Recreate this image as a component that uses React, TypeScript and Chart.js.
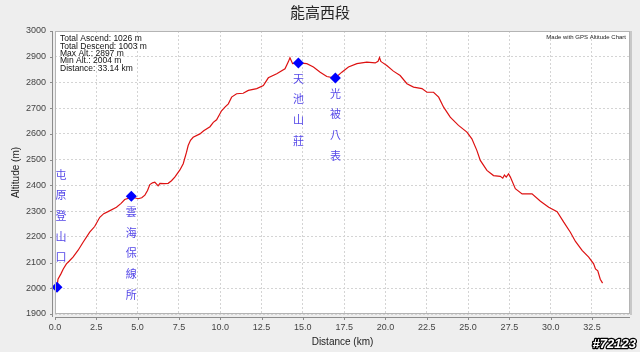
import React, { useEffect, useRef } from 'react';
import { Chart, registerables } from 'chart.js';

Chart.register(...registerables);

const TITLE = '能高西段';
const X_TITLE = 'Distance (km)';
const Y_TITLE = 'Altitude (m)';

const distances = [
  0.12, 0.18, 0.35, 0.5, 0.69, 0.85, 1.09, 1.4, 1.7, 2.1, 2.4, 2.71, 2.95, 3.21, 3.72, 4.0, 4.22, 4.45,
  4.62, 4.8, 5.03, 5.25, 5.44, 5.6, 5.74, 5.9, 6.04, 6.15, 6.24, 6.35, 6.6, 6.85, 7.05, 7.25, 7.56, 7.76,
  7.96, 8.06, 8.2, 8.36, 8.77, 9.0, 9.38, 9.58, 9.78, 10.08, 10.3, 10.49, 10.69, 10.99, 11.39, 11.7, 12.21,
  12.61, 12.91, 13.42, 13.92, 14.12, 14.22, 14.38, 14.73, 15.24, 15.64, 16.05, 16.45, 16.95, 17.36, 17.76,
  18.27, 18.87, 19.38, 19.55, 19.64, 19.72, 19.78, 20.08, 20.48, 20.89, 21.3, 21.7, 22.21, 22.51, 22.91,
  23.22, 23.52, 23.92, 24.42, 24.93, 25.23, 25.53, 25.74, 26.14, 26.54, 26.95, 27.1, 27.2, 27.31, 27.45,
  27.56, 27.86, 28.27, 28.87, 29.38, 29.88, 30.39, 30.79, 31.19, 31.5, 31.9, 32.3, 32.6, 32.71, 32.85,
  33.0, 33.14,
];
const altitudes = [
  2004, 2035, 2055, 2075, 2095, 2105, 2121, 2148, 2179, 2218, 2240, 2276, 2290, 2298, 2315, 2330, 2345, 2350,
  2358, 2352, 2348, 2352, 2362, 2380, 2403, 2410, 2412, 2405, 2398, 2408, 2407, 2408, 2418, 2432, 2460, 2484,
  2529, 2555, 2575, 2587, 2600, 2612, 2628, 2645, 2655, 2690, 2705, 2717, 2743, 2756, 2758, 2769, 2776,
  2788, 2818, 2834, 2853, 2880, 2896, 2873, 2876, 2873, 2860, 2840, 2823, 2817, 2840, 2860,
  2873, 2879, 2876, 2882, 2897, 2882, 2879, 2866, 2844, 2827, 2795, 2782, 2776, 2762, 2762,
  2743, 2704, 2665, 2633, 2607, 2581, 2536, 2497, 2458, 2438, 2435, 2428, 2440, 2432, 2445,
  2432, 2387, 2367, 2367, 2338, 2315, 2298, 2257, 2218, 2182, 2147, 2121, 2095, 2075, 2068,
  2035, 2020,
];

const markerDistances = [0.12, 4.62, 14.73, 16.97];
const markerAltitudes = [2004, 2358, 2876, 2817];
const markerLabels = ['屯原登山口', '雲海保線所', '天池山莊', '光被八表'];

const statsLines = [
  'Total Ascend: 1026 m',
  'Total Descend: 1003 m',
  'Max Alt.: 2897 m',
  'Min Alt.: 2004 m',
  'Distance: 33.14 km',
];
const CREDIT = 'Made with GPS Altitude Chart';
const WATERMARK = '#72123';

const X_MIN = 0;
const X_MAX = 34.8;
const X_STEP = 2.5;
const Y_MIN = 1900;
const Y_MAX = 3000;
const Y_STEP = 100;

const decorPlugin = {
  id: 'decor',
  beforeDraw(chart: any) {
    const { ctx, chartArea: a, width, height } = chart;
    ctx.save();
    ctx.fillStyle = '#eeeeee';
    ctx.fillRect(0, 0, width, height);
    ctx.fillStyle = '#ffffff';
    ctx.fillRect(a.left, a.top, a.right - a.left, a.bottom - a.top);
    ctx.restore();
  },
  afterDraw(chart: any) {
    const { ctx, chartArea: a, width, height } = chart;
    const xs = chart.scales.x;
    const ys = chart.scales.y;
    ctx.save();
    // plot frame
    ctx.strokeStyle = '#b4b4b4';
    ctx.lineWidth = 1;
    ctx.strokeRect(a.left + 0.5, a.top + 0.5, a.right - a.left - 1, a.bottom - a.top - 1);
    ctx.strokeStyle = '#c8c8c8';
    ctx.lineWidth = 2;
    ctx.beginPath();
    ctx.moveTo(a.right + 1, a.top);
    ctx.lineTo(a.right + 1, a.bottom + 1);
    ctx.stroke();
    // axis lines
    ctx.strokeStyle = '#8c8c8c';
    ctx.lineWidth = 1;
    ctx.beginPath();
    ctx.moveTo(a.left - 2.5, a.top);
    ctx.lineTo(a.left - 2.5, a.bottom + 3);
    ctx.moveTo(a.left, a.bottom + 3.5);
    ctx.lineTo(a.right, a.bottom + 3.5);
    ys.ticks.forEach((t: any) => {
      const y = Math.round(ys.getPixelForValue(t.value)) + 0.5;
      ctx.moveTo(a.left - 2.5, y);
      ctx.lineTo(a.left - 5, y);
    });
    xs.ticks.forEach((t: any) => {
      const x = Math.round(xs.getPixelForValue(t.value)) + 0.5;
      ctx.moveTo(x, a.bottom + 3.5);
      ctx.lineTo(x, a.bottom + 6);
    });
    ctx.stroke();

    // title
    ctx.fillStyle = '#222222';
    ctx.font = '15px "Noto Sans CJK TC", "Noto Sans CJK SC", sans-serif';
    ctx.textAlign = 'center';
    ctx.textBaseline = 'middle';
    ctx.fillText(TITLE, width / 2, 12);

    // stats
    ctx.font = '8.5px "Liberation Sans", Arial, sans-serif';
    ctx.textAlign = 'left';
    ctx.fillStyle = '#111111';
    statsLines.forEach((s, i) => ctx.fillText(s, a.left + 5, 39 + i * 7.3));

    // credit
    ctx.font = '6px "Liberation Sans", Arial, sans-serif';
    ctx.textAlign = 'right';
    ctx.fillStyle = '#222222';
    ctx.fillText(CREDIT, a.right - 4, 37);

    // marker labels
    ctx.font = '11px "Noto Sans CJK TC", "Noto Sans CJK SC", sans-serif';
    ctx.textAlign = 'center';
    ctx.fillStyle = '#5548e8';
    const step = 20.7;
    markerLabels.forEach((lab, i) => {
      const px = xs.getPixelForValue(markerDistances[i]);
      const py = ys.getPixelForValue(markerAltitudes[i]);
      const chars = Array.from(lab);
      let startY = py + 15.5;
      if (startY + (chars.length - 1) * step + 8 > a.bottom) {
        startY = py - 30 - (chars.length - 1) * step;
      }
      const cx = Math.max(px, a.left + 6);
      chars.forEach((c, k) => ctx.fillText(c, cx, startY + k * step));
    });

    // watermark
    ctx.font = 'italic bold 13px "Liberation Sans", Arial, sans-serif';
    ctx.textAlign = 'right';
    ctx.textBaseline = 'middle';
    ctx.lineWidth = 2.5;
    ctx.strokeStyle = '#000000';
    ctx.lineJoin = 'round';
    ctx.strokeText(WATERMARK, width - 4, height - 8);
    ctx.fillStyle = '#ffffff';
    ctx.fillText(WATERMARK, width - 4, height - 8);
    ctx.restore();
  },
};

export default function App() {
  const canvasRef = useRef<HTMLCanvasElement | null>(null);

  useEffect(() => {
    document.body.style.margin = '0';
    const canvas = canvasRef.current;
    if (!canvas) return;
    const profile = distances.map((d, i) => ({ x: d, y: altitudes[i] }));
    const markers = markerDistances.map((d, i) => ({ x: d, y: markerAltitudes[i] }));
    const tickFont = { family: '"Liberation Sans", Arial, sans-serif', size: 9 };
    const titleFont = { family: '"Liberation Sans", Arial, sans-serif', size: 10 };
    const chart = new Chart(canvas, {
      type: 'scatter',
      data: {
        datasets: [
          {
            data: markers,
            pointStyle: 'rectRot',
            pointRadius: 5.5,
            pointBackgroundColor: '#0000ff',
            pointBorderColor: '#0000ff',
            pointBorderWidth: 0,
            showLine: false,
            clip: false,
          } as any,
          {
            data: profile,
            showLine: true,
            borderColor: '#dd1111',
            borderWidth: 1.2,
            pointRadius: 0,
            fill: false,
            tension: 0,
          } as any,
        ],
      },
      options: {
        responsive: false,
        animation: false,
        devicePixelRatio: 1,
        layout: { padding: { top: 31, right: 10, left: 0, bottom: 0 } },
        plugins: { legend: { display: false }, tooltip: { enabled: false }, title: { display: false } },
        scales: {
          x: {
            type: 'linear',
            min: X_MIN,
            max: X_MAX,
            afterFit: (s: any) => { s.height = 38; },
            ticks: {
              stepSize: X_STEP,
              includeBounds: false,
              autoSkip: false,
              maxRotation: 0,
              padding: 8,
              color: '#444444',
              font: tickFont,
              callback: (v: any) => Number(v).toFixed(1),
            },
            grid: { color: '#d4d4d4', drawTicks: false, lineWidth: 1 },
            border: { display: false, dash: [2, 2] },
            title: { display: true, text: X_TITLE, color: '#222222', font: titleFont, padding: { top: 0, bottom: 4 } },
          },
          y: {
            type: 'linear',
            min: Y_MIN,
            max: Y_MAX,
            afterFit: (s: any) => { s.width = 55; },
            ticks: {
              stepSize: Y_STEP,
              autoSkip: false,
              padding: 9,
              color: '#444444',
              font: tickFont,
              callback: (v: any) => String(v),
            },
            grid: { color: '#d4d4d4', drawTicks: false, lineWidth: 1 },
            border: { display: false, dash: [2, 2] },
            title: { display: true, text: Y_TITLE, color: '#222222', font: titleFont, padding: { top: 10.5, bottom: 0 } },
          },
        },
      },
      plugins: [decorPlugin],
    } as any);
    return () => chart.destroy();
  }, []);

  return (
    <div style={{ position: 'absolute', left: 0, top: 0, width: 640, height: 352 }}>
      <canvas ref={canvasRef} width={640} height={352} style={{ display: 'block' }} />
    </div>
  );
}
